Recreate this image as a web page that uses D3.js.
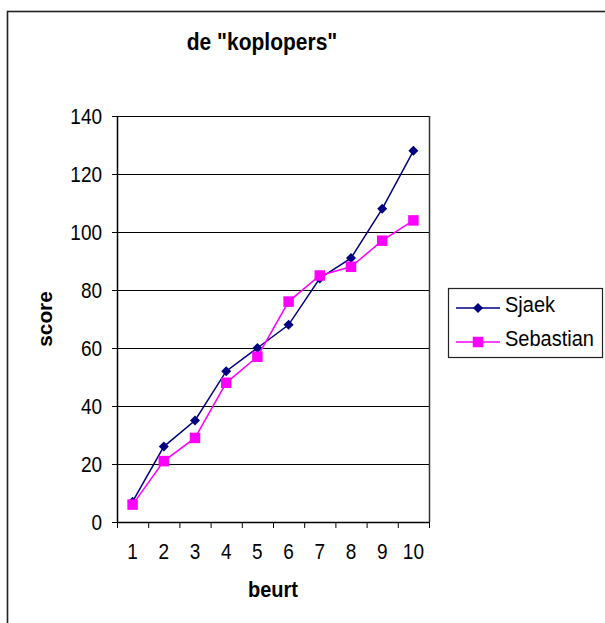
<!DOCTYPE html>
<html>
<head>
<meta charset="utf-8">
<script src="https://cdn.jsdelivr.net/npm/d3@7"></script>
<style>
  body { margin: 0; background: #fff; }
  text { font-family: "Liberation Sans", Arial, sans-serif; fill: #000; }
</style>
</head>
<body>
<div id="chart"></div>
<script>
var beurten = ["1", "2", "3", "4", "5", "6", "7", "8", "9", "10"];
var sjaek = [7, 26, 35, 52, 60, 68, 84, 91, 108, 128];
var sebastian = [6, 21, 29, 48, 57, 76, 85, 88, 97, 104];
var yTicks = [0, 20, 40, 60, 80, 100, 120, 140];
var series = [
    {naam: "Sjaek", waarden: sjaek, kleur: "#000080", vorm: "diamond"},
    {naam: "Sebastian", waarden: sebastian, kleur: "#ff00ff", vorm: "square"}
];

var width = 605, height = 623;
var links = 117, rechts = 429, boven = 116, onder = 522;
var rek = 1.12; // tekst is in het origineel iets hoger dan breed

var svg = d3.select("#chart").append("svg").attr("width", width).attr("height", height);

// rand om de grafiek
svg.append("rect")
    .attr("x", 7.5).attr("y", 11.5)
    .attr("width", 800).attr("height", 800)
    .style("fill", "white")
    .style("stroke", "#222")
    .style("stroke-width", 1.6);

var x = d3.scaleBand().domain(beurten).range([links, rechts]).padding(0);
var xGrens = d3.scaleLinear().domain([0, beurten.length]).range([links, rechts]);
var y = d3.scaleLinear().domain([0, 140]).range([onder, boven]);

// rasterlijnen
svg.append("g").selectAll("line").data(yTicks).enter().append("line")
    .attr("x1", links).attr("x2", rechts)
    .attr("y1", function(d){ return Math.round(y(d)) + 0.5; })
    .attr("y2", function(d){ return Math.round(y(d)) + 0.5; })
    .style("stroke", "#000").style("stroke-width", 1);

// rechterrand plotgebied
svg.append("line")
    .attr("x1", rechts + 0.5).attr("x2", rechts + 0.5)
    .attr("y1", boven).attr("y2", onder)
    .style("stroke", "#333").style("stroke-width", 1.5);

// y-as
var yAs = svg.append("g")
    .attr("transform", "translate(" + links + ",0)")
    .call(d3.axisLeft(y).tickValues(yTicks).tickSize(5).tickPadding(10).tickSizeOuter(0));
yAs.select(".domain").style("stroke", "#000").style("stroke-width", 1.5);
yAs.selectAll("text").style("font-size", "19px")
    .attr("dy", null).attr("y", 7)
    .attr("transform", "scale(1," + rek + ")");

// x-as streepjes op de grenzen
var xAs = svg.append("g")
    .attr("transform", "translate(0," + onder + ")")
    .call(d3.axisBottom(xGrens).ticks(beurten.length).tickSize(6).tickFormat("").tickSizeOuter(0));
xAs.select(".domain").style("stroke", "#000").style("stroke-width", 1.5);

// x-as labels
var xLabels = svg.append("g")
    .attr("transform", "translate(0," + onder + ")")
    .call(d3.axisBottom(x).tickSize(0));
xLabels.select(".domain").remove();
xLabels.selectAll("text").style("font-size", "19px")
    .attr("dy", null).attr("y", 37 / rek)
    .attr("transform", "scale(1," + rek + ")");

var lijn = d3.line()
    .x(function(d, i){ return x(beurten[i]) + x.bandwidth() / 2; })
    .y(function(d){ return y(d); });

var diamant = d3.symbol().type(d3.symbolDiamond2).size(64);
var vierkant = d3.symbol().type(d3.symbolSquare).size(110);

for (let s of series) {
    svg.append("path")
        .datum(s.waarden)
        .attr("d", lijn)
        .style("fill", "none")
        .style("stroke", s.kleur)
        .style("stroke-width", 1.5);
    svg.append("g").selectAll("path").data(s.waarden).enter().append("path")
        .attr("transform", function(d, i){
            return "translate(" + (x(beurten[i]) + x.bandwidth() / 2) + "," + y(d) + ")";
        })
        .attr("d", s.vorm == "diamond" ? diamant : vierkant)
        .style("fill", s.kleur);
}

// titels
svg.append("text")
    .attr("transform", "translate(262,50) scale(1," + rek + ")")
    .attr("text-anchor", "middle")
    .style("font-size", "21px").style("font-weight", "bold")
    .text('de "koplopers"');

svg.append("text")
    .attr("transform", "translate(273,597) scale(1," + rek + ")")
    .attr("text-anchor", "middle")
    .style("font-size", "20px").style("font-weight", "bold")
    .text("beurt");

svg.append("text")
    .attr("transform", "translate(52,319) rotate(-90) scale(1.04,1)")
    .attr("text-anchor", "middle")
    .style("font-size", "20px").style("font-weight", "bold")
    .text("score");

// legenda
var legenda = svg.append("g");
legenda.append("rect")
    .attr("x", 448.5).attr("y", 288.5)
    .attr("width", 154).attr("height", 69)
    .style("fill", "white")
    .style("stroke", "#222")
    .style("stroke-width", 1.2);

series.forEach(function(s, i){
    var ly = 308 + i * 34;
    legenda.append("line")
        .attr("x1", 456).attr("x2", 500)
        .attr("y1", ly).attr("y2", ly)
        .style("stroke", s.kleur).style("stroke-width", 1.5);
    legenda.append("path")
        .attr("transform", "translate(478," + ly + ")")
        .attr("d", s.vorm == "diamond" ? diamant : vierkant)
        .style("fill", s.kleur);
    legenda.append("text")
        .attr("transform", "translate(505," + (ly + 4) + ") scale(1," + rek + ")")
        .style("font-size", "20px")
        .text(s.naam);
});
</script>
</body>
</html>
